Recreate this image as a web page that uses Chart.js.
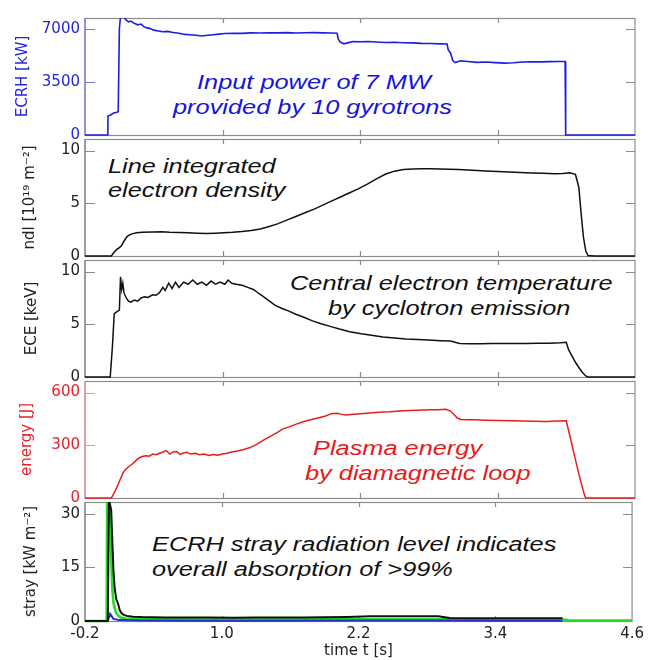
<!DOCTYPE html>
<html>
<head>
<meta charset="utf-8">
<script src="https://cdn.jsdelivr.net/npm/chart.js@4.4.1/dist/chart.umd.min.js"></script>
<style>
  body { margin: 0; background: #fff; width: 648px; height: 660px; position: relative; overflow: hidden; }
  canvas { position: absolute; left: 0; }
  .note {
    position: absolute; white-space: nowrap;
    font-family: "Liberation Sans", Arial, sans-serif; font-style: italic;
    font-size: 19.5px; line-height: 24px;
    transform-origin: 0 50%; transform: scaleX(1.3);
  }
</style>
</head>
<body>

<div class="note" style="left:197px;top:70px;color:#1414dc">Input power of 7 MW</div>
<div class="note" style="left:173px;top:95px;color:#1414dc">provided by 10 gyrotrons</div>
<div class="note" style="left:108px;top:154px;color:#111">Line integrated</div>
<div class="note" style="left:108px;top:178px;color:#111">electron density</div>
<div class="note" style="left:290px;top:271px;color:#111">Central electron temperature</div>
<div class="note" style="left:328px;top:296px;color:#111">by cyclotron emission</div>
<div class="note" style="left:313px;top:436px;color:#e61a1a">Plasma energy</div>
<div class="note" style="left:305px;top:461px;color:#e61a1a">by diamagnetic loop</div>
<div class="note" style="left:152px;top:532px;color:#111">ECRH stray radiation level indicates</div>
<div class="note" style="left:152px;top:557px;color:#111">overall absorption of &gt;99%</div>

<script>
// ═══════════════════════════════════════
//  DATA  (time t [s], value)
// ═══════════════════════════════════════

const xTicks = [-0.2, 1.0, 2.2, 3.4, 4.6];

const ecrhTicks   = [0, 3500, 7000];
const ndlTicks    = [0, 5, 10];
const eceTicks    = [0, 5, 10];
const energyTicks = [0, 300, 600];
const strayTicks  = [0, 15, 30];

// ECRH input power [kW]
const ecrhKW = [
  [-0.2,0],[0.0,0],[0.0,1250],[0.02,1300],[0.05,1450],[0.08,1500],[0.09,1550],[0.10,7000],
  [0.11,7800],[0.13,7800],[0.15,7650],[0.16,7550],[0.18,7450],[0.20,7500],[0.23,7350],
  [0.26,7250],[0.29,7300],[0.31,7150],[0.34,7050],[0.37,7000],[0.40,6900],[0.44,6850],
  [0.48,6800],[0.52,6820],[0.57,6750],[0.62,6700],[0.67,6620],[0.72,6600],[0.77,6560],
  [0.82,6520],[0.87,6560],[0.92,6600],[0.97,6640],[1.02,6680],[1.10,6700],[1.17,6690],
  [1.25,6720],[1.33,6710],[1.40,6730],[1.48,6720],[1.56,6740],[1.64,6710],[1.72,6730],
  [1.80,6740],[1.88,6720],[1.95,6710],[2.00,6700],[2.01,6300],[2.03,6100],[2.06,6000],
  [2.10,6080],[2.14,6150],[2.20,6140],[2.27,6150],[2.34,6120],[2.42,6090],[2.50,6100],
  [2.58,6070],[2.66,6060],[2.74,6030],[2.82,6020],[2.90,6000],[2.96,5990],[2.97,5600],
  [2.99,5400],[3.01,4900],[3.03,4770],[3.08,4880],[3.14,4840],[3.22,4780],[3.30,4800],
  [3.38,4760],[3.46,4730],[3.54,4750],[3.62,4800],[3.70,4820],[3.78,4810],[3.86,4830],
  [3.94,4840],[3.99,4840],[3.995,0],[4.6,0]
];

// line integrated electron density [1e19 m^-2]
const ndl = [
  [-0.2,0],[0.03,0],[0.05,0.3],[0.075,0.6],[0.10,0.8],[0.12,1.0],[0.14,1.4],[0.16,1.75],
  [0.18,1.95],[0.21,2.1],[0.25,2.2],[0.30,2.25],[0.39,2.28],[0.47,2.3],[0.54,2.26],
  [0.62,2.24],[0.70,2.2],[0.78,2.17],[0.86,2.14],[0.94,2.17],[1.01,2.2],[1.09,2.25],
  [1.17,2.32],[1.25,2.42],[1.33,2.56],[1.40,2.78],[1.48,3.05],[1.56,3.4],[1.64,3.75],
  [1.72,4.1],[1.80,4.45],[1.88,4.85],[1.95,5.2],[2.02,5.55],[2.10,5.95],[2.18,6.35],
  [2.26,6.8],[2.34,7.3],[2.42,7.75],[2.50,8.05],[2.58,8.2],[2.66,8.25],[2.74,8.27],
  [2.82,8.28],[2.90,8.26],[2.98,8.24],[3.06,8.2],[3.14,8.16],[3.22,8.12],[3.30,8.07],
  [3.40,8.02],[3.50,7.96],[3.60,7.92],[3.70,7.88],[3.80,7.84],[3.90,7.8],[3.97,7.82],
  [4.03,7.9],[4.08,7.75],[4.11,6.5],[4.13,4.0],[4.15,1.8],[4.17,0.5],[4.19,0.05],
  [4.25,0],[4.6,0]
];

// central electron temperature, ECE [keV]
const eceKeV = [
  [-0.2,0],[0.02,0],[0.04,3.0],[0.055,6.0],[0.08,6.2],[0.10,6.35],[0.11,9.5],[0.12,8.3],
  [0.13,8.9],[0.14,8.0],[0.16,7.5],[0.18,7.2],[0.20,7.1],[0.23,7.3],[0.26,7.2],[0.29,7.5],
  [0.32,7.6],[0.35,7.55],[0.39,7.8],[0.42,7.75],[0.45,8.0],[0.48,8.5],[0.50,8.2],[0.53,8.9],
  [0.56,8.4],[0.59,9.0],[0.62,8.5],[0.66,9.0],[0.70,8.8],[0.74,9.2],[0.78,8.8],[0.82,9.0],
  [0.86,8.7],[0.90,9.1],[0.94,8.8],[0.98,9.0],[1.02,8.8],[1.05,9.2],[1.08,8.9],[1.12,8.8],
  [1.17,8.7],[1.22,8.5],[1.27,8.3],[1.32,7.9],[1.36,7.6],[1.41,7.2],[1.46,6.8],[1.52,6.5],
  [1.58,6.25],[1.64,5.95],[1.71,5.67],[1.78,5.35],[1.86,5.06],[1.94,4.8],[2.02,4.55],
  [2.11,4.3],[2.21,4.1],[2.30,3.95],[2.40,3.8],[2.50,3.7],[2.60,3.6],[2.70,3.55],[2.80,3.5],
  [2.90,3.45],[2.99,3.42],[3.03,3.3],[3.07,3.18],[3.15,3.15],[3.25,3.16],[3.35,3.17],
  [3.45,3.18],[3.55,3.18],[3.65,3.19],[3.75,3.2],[3.85,3.2],[3.95,3.25],[4.00,3.3],
  [4.02,2.6],[4.05,2.0],[4.08,1.4],[4.11,0.9],[4.14,0.45],[4.17,0.1],[4.19,0],[4.6,0]
];

// plasma energy, diamagnetic loop [J]
const energyJ = [
  [-0.2,0],[0.03,0],[0.06,36],[0.09,80],[0.11,110],[0.13,140],[0.15,160],[0.18,178],
  [0.21,192],[0.24,210],[0.27,228],[0.30,236],[0.33,240],[0.36,238],[0.39,250],[0.42,246],
  [0.45,255],[0.48,262],[0.51,270],[0.54,250],[0.57,262],[0.60,265],[0.63,248],[0.66,256],
  [0.69,260],[0.72,250],[0.76,255],[0.80,246],[0.84,250],[0.88,242],[0.92,248],[0.96,244],
  [1.00,250],[1.04,255],[1.08,262],[1.13,268],[1.18,275],[1.24,287],[1.29,302],[1.33,318],
  [1.38,338],[1.43,355],[1.48,373],[1.52,391],[1.58,405],[1.65,422],[1.71,435],[1.77,445],
  [1.84,457],[1.90,467],[1.95,480],[2.00,482],[2.04,476],[2.08,473],[2.14,477],[2.21,480],
  [2.28,484],[2.34,487],[2.40,489],[2.46,491],[2.52,494],[2.58,496],[2.64,498],[2.70,500],
  [2.76,501],[2.82,502],[2.88,503],[2.95,505],[2.99,495],[3.02,475],[3.05,455],[3.08,447],
  [3.14,446],[3.20,445],[3.30,443],[3.40,441],[3.52,440],[3.62,438],[3.72,437],[3.83,436],
  [3.92,438],[4.00,440],[4.04,330],[4.08,218],[4.12,110],[4.16,15],[4.17,0],[4.6,0]
];

// stray radiation [kW m^-2], three probes
const strayBlack = [
  [-0.2,0],[0.0,0],[0.01,34],[0.03,31],[0.04,22],[0.05,14],[0.06,9.3],[0.075,6],[0.09,4.9],
  [0.105,3],[0.12,2.2],[0.14,1.7],[0.17,1.4],[0.22,1.2],[0.30,1.1],[0.50,1.0],[0.70,0.95],
  [0.90,0.95],[1.10,0.9],[1.30,0.95],[1.50,0.95],[1.70,1.0],[1.90,1.05],[2.10,1.15],
  [2.30,1.3],[2.50,1.35],[2.70,1.35],[2.90,1.3],[3.00,0.85],[3.20,0.8],[3.40,0.8],
  [3.60,0.8],[3.80,0.8],[3.99,0.8]
];
const strayBlue = [
  [0.0,0],[0.02,2.0],[0.05,0.6],[0.10,0.25],[0.30,0.15],[0.80,0.1],[1.50,0.1],[2.20,0.15],
  [2.90,0.15],[3.50,0.1],[3.99,0.1]
];
const strayGreen = [
  [-0.2,0],[-0.01,0],[-0.005,34],[0.01,34],[0.02,30],[0.03,18],[0.04,9],[0.05,5],[0.07,2.5],
  [0.09,1.5],[0.12,0.9],[0.16,0.6],[0.30,0.5],[0.80,0.45],[1.50,0.5],[2.20,0.5],[2.80,0.5],
  [3.40,0.45],[4.00,0.4],[4.05,0.12],[4.60,0.1]
];

// ═══════════════════════════════════════
//  PANELS
// ═══════════════════════════════════════

const FONT = 'DejaVu Sans';
const W = 648, H = 660, PLOT_RIGHT = 635;

const panels = [
  { top: 16,  bottom: 137, max: 7700, ticks: ecrhTicks,   title: 'ECRH [kW]',       titlePad: 14, color: '#2525dc', axis: '#7878f0',
    series: [{ data: ecrhKW, color: '#1e1ee0', width: 1.6 }] },
  { top: 137, bottom: 258, max: 11.1, ticks: ndlTicks,    title: 'ndl [10¹⁹ m⁻²]',  titlePad: 21, color: '#222', axis: '#8c8c8c',
    series: [{ data: ndl, color: '#111', width: 1.5 }] },
  { top: 258, bottom: 379, max: 11.1, ticks: eceTicks,    title: 'ECE [keV]',       titlePad: 23, color: '#222', axis: '#8c8c8c',
    series: [{ data: eceKeV, color: '#111', width: 1.5 }] },
  { top: 379, bottom: 500, max: 666,  ticks: energyTicks, title: 'energy [J]',      titlePad: 18, color: '#e8202a', axis: '#f29090',
    series: [{ data: energyJ, color: '#e81c1c', width: 1.5 }] },
  { top: 500, bottom: 621, max: 33.3, ticks: strayTicks,  title: 'stray [kW m⁻²]',  titlePad: 22, color: '#222', axis: '#8c8c8c',
    series: [
      { data: strayBlack, color: '#111',    width: 2 },
      { data: strayBlue,  color: '#2030d0', width: 2 },
      { data: strayGreen, color: '#22dd22', width: 2.6 }
    ] }
];

// frame + inward tick marks, drawn under the traces
const framePlugin = {
  id: 'frame',
  beforeDatasetsDraw(chart, args, opts) {
    const { ctx, chartArea: a, scales: { x, y } } = chart;
    ctx.save();
    ctx.lineWidth = 1.2;
    ctx.strokeStyle = '#8c8c8c';
    ctx.strokeRect(a.left, a.top + 0.5, a.right - a.left, a.bottom - a.top);
    ctx.beginPath();
    xTicks.slice(1, -1).forEach(v => {
      const px = Math.round(x.getPixelForValue(v)) + 0.5;
      ctx.moveTo(px, a.top);    ctx.lineTo(px, a.top + 5);
      ctx.moveTo(px, a.bottom); ctx.lineTo(px, a.bottom - 5);
    });
    opts.ticks.forEach(v => {
      const py = Math.round(y.getPixelForValue(v)) + 0.5;
      ctx.moveTo(a.right, py); ctx.lineTo(a.right - 9, py);
    });
    ctx.stroke();
    // left axis in the panel colour
    ctx.strokeStyle = opts.axis;
    ctx.beginPath();
    ctx.moveTo(a.left, a.top); ctx.lineTo(a.left, a.bottom);
    opts.ticks.forEach(v => {
      const py = Math.round(y.getPixelForValue(v)) + 0.5;
      ctx.moveTo(a.left, py); ctx.lineTo(a.left + 10, py);
    });
    ctx.stroke();
    ctx.restore();
  }
};

panels.forEach((p, i) => {
  const last = i === panels.length - 1;
  const cTop = p.top - 12;
  const cH = last ? H - cTop : (p.bottom - p.top) + 24;

  const cv = document.createElement('canvas');
  cv.width = W;
  cv.height = cH;
  cv.style.top = cTop + 'px';
  document.body.appendChild(cv);

  const xScale = {
    type: 'linear', min: -0.2, max: 4.6, display: last,
    afterBuildTicks: s => { s.ticks = xTicks.map(v => ({ value: v })); },
    grid: { display: false, drawTicks: false }, border: { display: false }
  };
  if (last) {
    xScale.afterFit = s => { s.height = H - p.bottom; };
    xScale.ticks = { color: '#222', font: { family: FONT, size: 15 }, padding: 4, maxRotation: 0,
                     callback: v => v.toFixed(1) };
    xScale.title = { display: true, text: 'time t [s]', color: '#222',
                     font: { family: FONT, size: 15 }, padding: 0 };
  }

  new Chart(cv, {
    type: 'line',
    data: {
      datasets: p.series.map(s => ({
        data: s.data.map(([x, y]) => ({ x, y })),
        borderColor: s.color,
        borderWidth: s.width,
        pointRadius: 0,
        tension: 0,
        fill: false,
        clip: { left: 0, top: 0, right: 0, bottom: 3 }
      }))
    },
    options: {
      responsive: false,
      animation: false,
      events: [],
      layout: { padding: { left: 0, right: W - PLOT_RIGHT, top: 12, bottom: last ? 0 : 12 } },
      plugins: {
        legend: { display: false },
        tooltip: { enabled: false },
        frame: { ticks: p.ticks, axis: p.axis }
      },
      scales: {
        x: xScale,
        y: {
          min: 0, max: p.max,
          afterBuildTicks: s => { s.ticks = p.ticks.map(v => ({ value: v })); },
          afterFit: s => { s.width = 85; },
          grid: { display: false, drawTicks: false }, border: { display: false },
          ticks: { color: p.color, font: { family: FONT, size: 15 }, padding: 5, callback: v => String(v) },
          title: { display: true, text: p.title, color: p.color,
                   font: { family: FONT, size: 15 }, padding: { top: p.titlePad, bottom: 0 } }
        }
      }
    },
    plugins: [framePlugin]
  });
});
</script>
</body>
</html>
